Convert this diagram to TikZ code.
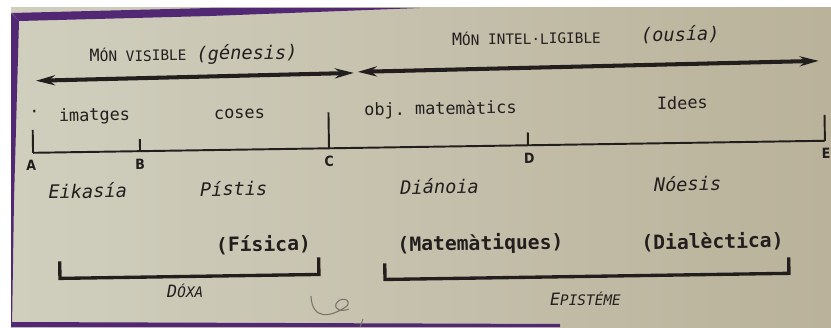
\documentclass[tikz,border=0pt]{standalone}
\usepackage{fontspec}
\setmonofont{DejaVu Sans Mono}
\newfontfamily\ptfont{DejaVu Sans Condensed}
\usepackage{tikz}
\usetikzlibrary{arrows.meta,positioning}
\definecolor{pagebg}{RGB}{208,207,190}
\definecolor{pageshade}{RGB}{186,178,154}
\definecolor{framepurple}{RGB}{82,40,116}
\definecolor{inkdark}{RGB}{34,30,30}
\definecolor{pencil}{RGB}{118,116,108}
% small capitals made by hand: big first letter, smaller rest
\newcommand{\fakesc}[2]{#1{\fontsize{8.2}{10}\selectfont #2}}

\begin{document}
\begin{tikzpicture}[
  x=0.02cm, y=-0.02cm,
  txt/.style={inner sep=0pt, anchor=base, text=inkdark, font=\fontsize{9.6}{12}\selectfont\ttfamily},
  itxt/.style={txt, font=\fontsize{10.6}{13}\selectfont\ttfamily\itshape},
  btxt/.style={txt, font=\fontsize{11.2}{14}\selectfont\ttfamily\bfseries},
  sctxt/.style={txt, font=\fontsize{9.6}{12}\selectfont\ttfamily},
  ptlabel/.style={inner sep=0pt, anchor=base, text=inkdark, font=\fontsize{8}{9}\selectfont\ptfont\bfseries},
  arrow/.style={{Stealth[length=0.38cm,width=0.2cm]}-{Stealth[length=0.38cm,width=0.2cm]}, line width=2.3pt, inkdark},
  bracket/.style={line width=1.9pt, inkdark},
  tick/.style={line width=1.1pt, inkdark}
]

% the book page
\fill[white] (0,0) rectangle (831,327);
\shade[left color=pagebg, right color=pageshade] (11,8) rectangle (831,327);
\fill[framepurple] (12,13) -- (210,8) -- (420,8) -- (210,16) -- (19,21) -- cycle;
\fill[framepurple] (11,13) -- (19,21) -- (14,200) -- (12,327) -- (11,327) -- cycle;
\fill[framepurple] (11,322) -- (560,324) -- (560,327) -- (11,327) -- cycle;

\begin{scope}[rotate around={0.87:(415,147)}, transform shape]

% the divided line
\coordinate (A) at (33,147);
\coordinate (B) at (140,147);
\coordinate (C) at (329,147);
\coordinate (D) at (528,147);
\coordinate (E) at (825,147);
\draw[tick] (A) -- (E);
\draw[tick] (A) -- ++(0,-23);
\draw[tick] (B) -- ++(0,-12);
\draw[tick] (C) -- ++(0,-36);
\draw[tick] (D) -- ++(0,-13);
\draw[tick] (E) -- ++(0,-26);

\node[ptlabel] (lblA) at (31,165) {A};
\node[ptlabel] (lblB) at (140,165) {B};
\node[ptlabel] (lblC) at (329,165) {C};
\node[ptlabel] (lblD) at (529,165) {D};
\node[ptlabel] (lblE) at (826,165) {E};

% objects
\node[txt] (dot) at (35,112) {·};
\node[txt] (imatges) at (95,116) {imatges};
\node[txt] (coses) at (240,116) {coses};
\node[txt] (objmat) at (441,115) {obj. matemàtics};
\node[txt] (idees) at (683,113) {Idees};

% the two worlds
\coordinate (visL) at (37,75);
\coordinate (visR) at (355,72);
\coordinate (intL) at (359,71);
\coordinate (intR) at (820,67);
\draw[arrow] (visL) -- (visR);
\draw[arrow] (intL) -- (intR);
\node[sctxt] (visible) at (195,57) {\fakesc{M}{ÓN VISIBLE} {\fontsize{10.6}{13}\selectfont\itshape (génesis)}};
\node[sctxt] (intel) at (528,46) {\fakesc{M}{ÓN INTEL·LIGIBLE}};
\node[itxt] (ousia) at (682,45) {(ousía)};

% kinds of knowing
\node[itxt] (eikasia) at (87,193) {Eikasía};
\node[itxt] (pistis) at (233,193) {Pístis};
\node[itxt] (dianoia) at (439,194) {Diánoia};
\node[itxt] (noesis) at (687,195) {Nóesis};

\node[btxt] (fisica) at (262,249) {(Física)};
\node[btxt] (matem) at (479,251) {(Matemàtiques)};
\node[btxt] (dialec) at (711,253) {(Dialèctica)};

% doxa and episteme
\coordinate (dox1) at (58,256);
\coordinate (dox2) at (317,256);
\coordinate (epi1) at (383,263);
\coordinate (epi2) at (787,263);
\draw[bracket] (dox1) -- ++(0,17) -| (dox2);
\draw[bracket] (epi1) -- ++(0,16) -| (epi2);
\node[sctxt, font=\fontsize{9.6}{12}\selectfont\ttfamily\itshape] (doxa) at (183,294) {\fakesc{D}{ÓXA}};
\node[sctxt, font=\fontsize{9.6}{12}\selectfont\ttfamily\itshape] (episteme) at (583,308) {\fakesc{E}{PISTÉME}};

\end{scope}

% pencil mark on the page
\draw[pencil, line width=0.6pt] (311,296) .. controls (312,320) and (330,318) .. (347,306)
  .. controls (352,299) and (340,296) .. (336,304) .. controls (334,310) and (342,312) .. (349,309);
\draw[pencil, line width=0.5pt] (363,319) -- (360,327);

\end{tikzpicture}
\end{document}
